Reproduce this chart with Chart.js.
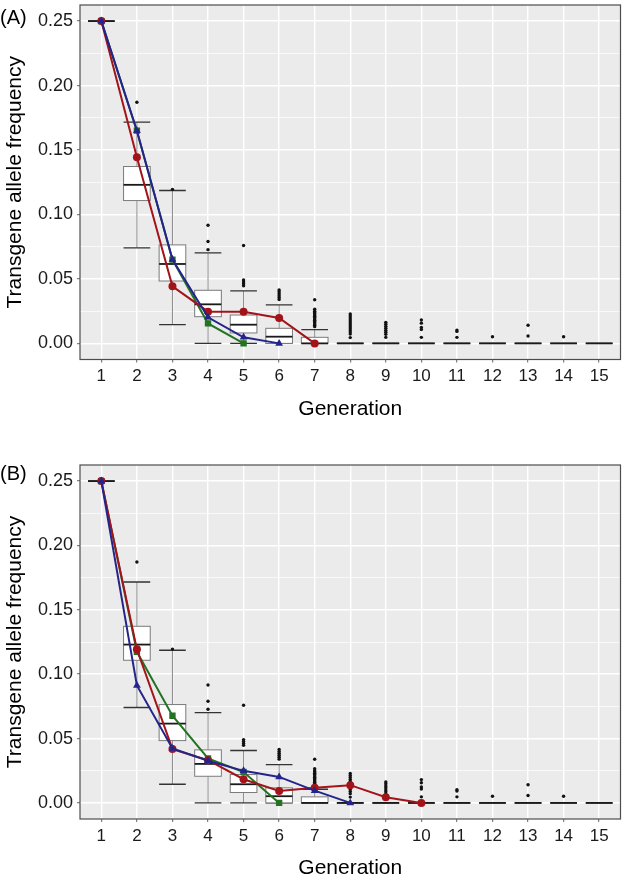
<!doctype html>
<html>
<head>
<title>Transgene allele frequency by generation</title>
<script src="https://cdn.jsdelivr.net/npm/chart.js@4.4.1/dist/chart.umd.min.js"></script>
<style>
	body { margin: 0; background: #fff; }
	#wrap { position: relative; width: 625px; height: 881px; font-family: "Liberation Sans", Arial, Helvetica, sans-serif; }
	canvas { position: absolute; left: 0; }
	.tag { position: absolute; left: 0; font-size: 20px; line-height: 1; color: #000; }
</style>
</head>
<body>
<div id="wrap">
	<canvas id="chartA" width="625" height="440" style="top:0"></canvas>
	<canvas id="chartB" width="625" height="441" style="top:440px"></canvas>
	<div class="tag" style="top:7px">(A)</div>
	<div class="tag" style="top:463px">(B)</div>
</div>

<script>
// generations and y tick values
const gens = [1, 2, 3, 4, 5, 6, 7, 8, 9, 10, 11, 12, 13, 14, 15];
const yTicks = [0, 0.025, 0.05, 0.075, 0.1, 0.125, 0.15, 0.175, 0.2, 0.225, 0.25];

// simulated distribution per generation (same in both panels)
const boxLow  = [0.25, 0.0741, 0.0145, 0, 0, 0, 0, 0, 0, 0, 0, 0, 0, 0, 0];
const boxQ1   = [0.25, 0.1108, 0.0484, 0.0207, 0.0081, 0, 0, 0, 0, 0, 0, 0, 0, 0, 0];
const boxMed  = [0.25, 0.1230, 0.0616, 0.0303, 0.0145, 0.0052, 0, 0, 0, 0, 0, 0, 0, 0, 0];
const boxQ3   = [0.25, 0.1372, 0.0764, 0.0412, 0.0220, 0.0117, 0.0047, 0, 0, 0, 0, 0, 0, 0, 0];
const boxHigh = [0.25, 0.1716, 0.1186, 0.0702, 0.0407, 0.0298, 0.0106, 0, 0, 0, 0, 0, 0, 0, 0];
const outliers = [
	[],
	[0.1871],
	[0.1195],
	[0.0916, 0.0790, 0.0727],
	[0.0759, 0.0492, 0.0477, 0.0462, 0.0447],
	[0.0415, 0.0400, 0.0385, 0.0370, 0.0355, 0.0340],
	[0.0339, 0.0265, 0.0250, 0.0240, 0.0230, 0.0220, 0.0210, 0.0200, 0.0190, 0.0180, 0.0170, 0.0160, 0.0150, 0.0140, 0.0130],
	[0.0228, 0.0212, 0.0197, 0.0181, 0.0166, 0.0150, 0.0135, 0.0119, 0.0104, 0.0088, 0.0072, 0.0045],
	[0.0163, 0.0148, 0.0132, 0.0117, 0.0101, 0.0086, 0.0070, 0.0047],
	[0.0181, 0.0157, 0.0124, 0.0108, 0.0047],
	[0.0103, 0.0093, 0.0047],
	[0.0052],
	[0.0141, 0.0057],
	[0.0052],
	[]
];

// observed runs, panel A
const redA   = [0.25, 0.1444, 0.0443, 0.0246, 0.0246, 0.0197, 0];
const greenA = [0.25, 0.1650, 0.0650, 0.0155, 0];
const blueA  = [0.25, 0.1650, 0.0650, 0.0202, 0.0047, 0];

// observed runs, panel B
const redB   = [0.25, 0.1193, 0.0418, 0.0332, 0.0184, 0.0093, 0.0117, 0.0138, 0.0044, 0];
const greenB = [0.25, 0.1174, 0.0677, 0.0345, 0.0240, 0];
const blueB  = [0.25, 0.0913, 0.0423, 0.0327, 0.0249, 0.0202, 0.0095, 0];

const RED = '#A3141A';
const GREEN = '#237323';
const BLUE = '#24248C';

Chart.defaults.font.family = '"Liberation Sans", Arial, Helvetica, sans-serif';

const isMajor = v => Math.round(v / 0.025) % 2 === 0;
const toPts = arr => arr.map((v, i) => ({x: gens[i], y: v}));

const boxPlugin = {
	id: 'boxes',
	beforeDraw(chart) {
		const {ctx, chartArea: a} = chart;
		ctx.save();
		ctx.fillStyle = '#EBEBEB';
		ctx.fillRect(a.left, a.top, a.right - a.left, a.bottom - a.top);
		ctx.restore();
	},
	beforeDatasetsDraw(chart) {
		const {ctx} = chart;
		const xs = chart.scales.x, ys = chart.scales.y;
		ctx.save();
		gens.forEach((g, i) => {
			const x0 = xs.getPixelForValue(g - 0.375);
			const x1 = xs.getPixelForValue(g + 0.375);
			const xc = xs.getPixelForValue(g);
			const yl = ys.getPixelForValue(boxLow[i]);
			const y1 = ys.getPixelForValue(boxQ1[i]);
			const ym = ys.getPixelForValue(boxMed[i]);
			const y3 = ys.getPixelForValue(boxQ3[i]);
			const yh = ys.getPixelForValue(boxHigh[i]);
			// whiskers
			ctx.strokeStyle = '#8a8a8a';
			ctx.lineWidth = 1;
			ctx.beginPath();
			ctx.moveTo(xc, yl); ctx.lineTo(xc, y1);
			ctx.moveTo(xc, y3); ctx.lineTo(xc, yh);
			ctx.stroke();
			// caps
			ctx.strokeStyle = '#333';
			ctx.lineWidth = 1.3;
			ctx.beginPath();
			ctx.moveTo(x0, yl); ctx.lineTo(x1, yl);
			ctx.moveTo(x0, yh); ctx.lineTo(x1, yh);
			ctx.stroke();
			// box
			ctx.fillStyle = '#fff';
			ctx.fillRect(x0, y3, x1 - x0, y1 - y3);
			ctx.strokeStyle = '#7a7a7a';
			ctx.lineWidth = 1;
			ctx.strokeRect(x0, y3, x1 - x0, y1 - y3);
			// median
			ctx.strokeStyle = '#1a1a1a';
			ctx.lineWidth = 1.8;
			ctx.beginPath();
			ctx.moveTo(x0, ym); ctx.lineTo(x1, ym);
			ctx.stroke();
		});
		ctx.restore();
	},
	afterDraw(chart) {
		const {ctx, chartArea: a} = chart;
		ctx.save();
		ctx.strokeStyle = '#4d4d4d';
		ctx.lineWidth = 1.2;
		ctx.strokeRect(a.left, a.top, a.right - a.left, a.bottom - a.top);
		ctx.restore();
	}
};

function makeChart(id, red, green, blue, padTop, padBottom) {
	const outPts = [];
	outliers.forEach((list, i) => list.forEach(v => outPts.push({x: gens[i], y: v})));
	return new Chart(document.getElementById(id).getContext('2d'), {
		type: 'line',
		data: {
			datasets: [{
				data: toPts(blue), borderColor: BLUE, backgroundColor: BLUE, borderWidth: 2,
				pointStyle: 'triangle', pointRadius: 4.5, pointBorderWidth: 0, tension: 0
			}, {
				data: toPts(red), borderColor: RED, backgroundColor: RED, borderWidth: 2,
				pointStyle: 'circle', pointRadius: 4, pointBorderWidth: 0, tension: 0
			}, {
				data: toPts(green), borderColor: GREEN, backgroundColor: GREEN, borderWidth: 2,
				pointStyle: 'rect', pointRadius: 4.5, pointBorderWidth: 0, tension: 0
			}, {
				type: 'scatter', data: outPts, showLine: false,
				backgroundColor: '#111', borderWidth: 0, pointRadius: 1.7
			}]
		},
		options: {
			responsive: false,
			animation: false,
			devicePixelRatio: 1,
			layout: {padding: {top: padTop, right: 3, bottom: padBottom, left: 0}},
			plugins: {legend: {display: false}, tooltip: {enabled: false}},
			scales: {
				x: {
					type: 'linear', min: 0.4, max: 15.6,
					afterBuildTicks: s => { s.ticks = gens.map(v => ({value: v})); },
					afterFit: s => { s.height = 62; s.paddingLeft = 0; s.paddingRight = 0; },
					ticks: {
						autoSkip: false, maxRotation: 0, padding: 4, color: '#1a1a1a',
						font: {size: 17}, callback: v => String(v)
					},
					grid: {color: '#fff', lineWidth: 1.4, tickLength: 3, tickColor: '#666', tickWidth: 1},
					border: {display: false},
					title: {display: true, text: 'Generation', color: '#000', font: {size: 21}, padding: {top: 0, bottom: 0}}
				},
				y: {
					type: 'linear', min: -0.0125, max: 0.2625,
					afterBuildTicks: s => { s.ticks = yTicks.map(v => ({value: v})); },
					afterFit: s => { s.width = 80; s.paddingTop = 0; s.paddingBottom = 0; },
					ticks: {
						autoSkip: false, padding: 4, color: '#1a1a1a', font: {size: 18},
						callback: v => isMajor(v) ? v.toFixed(2) : ''
					},
					grid: {
						color: '#fff',
						lineWidth: c => isMajor(c.tick.value) ? 1.4 : 0.7,
						tickLength: 3,
						tickColor: c => isMajor(c.tick.value) ? '#666' : 'rgba(0,0,0,0)',
						tickWidth: 1
					},
					border: {display: false},
					title: {display: true, text: 'Transgene allele frequency', color: '#000', font: {size: 21}, padding: {top: 3, bottom: 0}}
				}
			}
		},
		plugins: [boxPlugin]
	});
}

makeChart('chartA', redA, greenA, blueA, 5, 18.5);
makeChart('chartB', redB, greenB, blueB, 25, 0);
</script>
</body>
</html>
